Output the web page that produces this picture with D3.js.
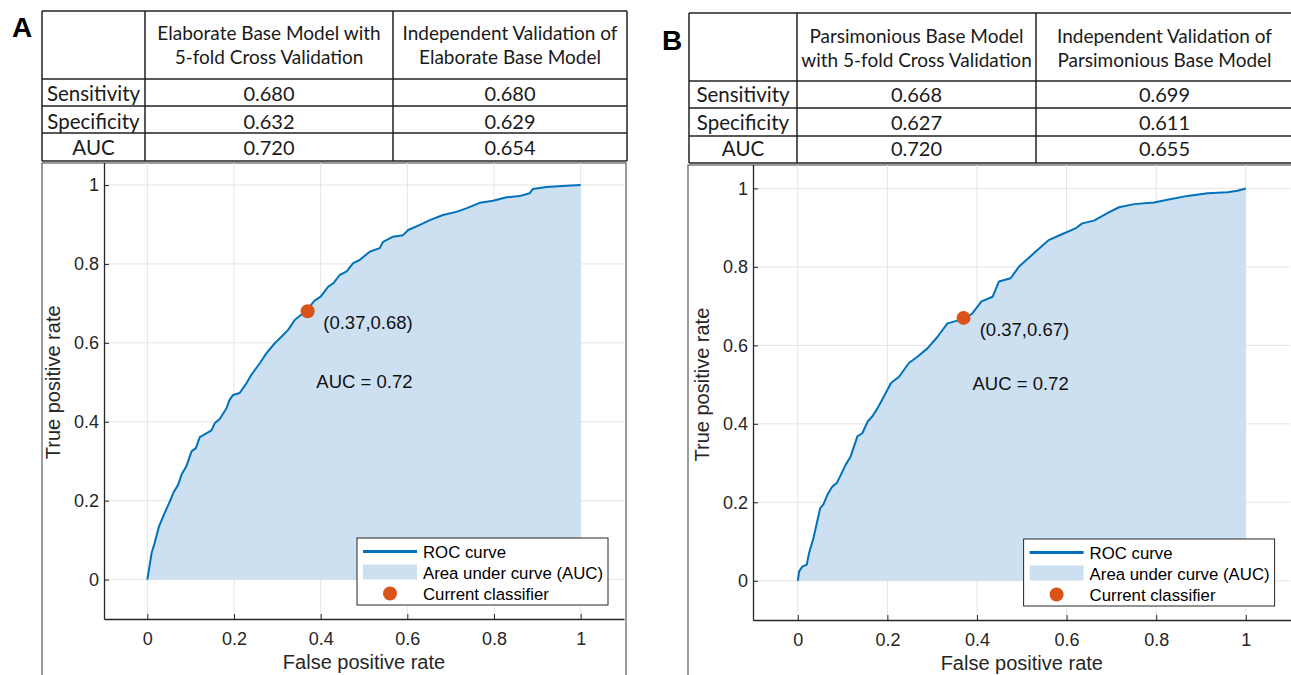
<!DOCTYPE html>
<html>
<head>
  <meta charset="utf-8">
  <title>ROC curves</title>
  <script src="https://cdn.jsdelivr.net/npm/d3@7"></script>
  <style>
    body { margin: 0; background: #fff; }
    text { font-family: "Liberation Sans", Arial, sans-serif; }
    .tbl text { font-family: Lato, "Open Sans", sans-serif; fill: #1a1a1a; }
  </style>
</head>
<body>
  <script type="text/javascript">
    // table contents
    var metrics = ["Sensitivity", "Specificity", "AUC"];
    var headA = [["Elaborate Base Model with", "5-fold Cross Validation"],
                 ["Independent Validation of", "Elaborate Base Model"]];
    var headB = [["Parsimonious Base Model", "with 5-fold Cross Validation"],
                 ["Independent Validation of", "Parsimonious Base Model"]];
    var cvA = ["0.680", "0.632", "0.720"];
    var indA = ["0.680", "0.629", "0.654"];
    var cvB = ["0.668", "0.627", "0.720"];
    var indB = ["0.699", "0.611", "0.655"];

    // ROC curve A
    var fprA = [0, 0.01, 0.017, 0.027, 0.04, 0.052, 0.06, 0.071, 0.079, 0.09, 0.102, 0.112, 0.121, 0.137,
      0.148, 0.156, 0.167, 0.183, 0.19, 0.198, 0.213, 0.229, 0.24, 0.26, 0.275, 0.294, 0.31, 0.325, 0.34,
      0.367, 0.386, 0.40, 0.417, 0.429, 0.444, 0.46, 0.475, 0.49, 0.513, 0.536, 0.544, 0.567, 0.59, 0.602,
      0.629, 0.652, 0.682, 0.713, 0.736, 0.767, 0.798, 0.829, 0.859, 0.882, 0.89, 0.921, 0.967, 1];
    var tprA = [0, 0.068, 0.093, 0.135, 0.169, 0.198, 0.22, 0.24, 0.266, 0.287, 0.325, 0.333, 0.361, 0.371,
      0.378, 0.397, 0.407, 0.435, 0.456, 0.468, 0.473, 0.498, 0.519, 0.549, 0.574, 0.599, 0.616, 0.633, 0.658,
      0.682, 0.707, 0.717, 0.742, 0.751, 0.772, 0.781, 0.802, 0.81, 0.831, 0.84, 0.856, 0.869, 0.873, 0.886,
      0.899, 0.911, 0.924, 0.932, 0.941, 0.955, 0.96, 0.969, 0.972, 0.979, 0.99, 0.995, 0.998, 1];

    // ROC curve B
    var fprB = [0, 0.003, 0.01, 0.02, 0.025, 0.035, 0.044, 0.05, 0.057, 0.066, 0.077, 0.087, 0.096, 0.107,
      0.118, 0.133, 0.144, 0.156, 0.167, 0.178, 0.188, 0.208, 0.226, 0.248, 0.267, 0.29, 0.312, 0.334, 0.356,
      0.373, 0.39, 0.41, 0.435, 0.449, 0.475, 0.494, 0.531, 0.561, 0.587, 0.621, 0.635, 0.661, 0.691, 0.717,
      0.751, 0.795, 0.825, 0.87, 0.915, 0.959, 0.981, 1];
    var tprB = [0, 0.024, 0.036, 0.041, 0.07, 0.109, 0.155, 0.185, 0.194, 0.219, 0.24, 0.249, 0.27, 0.296,
      0.317, 0.368, 0.376, 0.406, 0.42, 0.44, 0.461, 0.504, 0.52, 0.555, 0.571, 0.593, 0.622, 0.656, 0.663,
      0.667, 0.682, 0.712, 0.724, 0.763, 0.771, 0.801, 0.839, 0.869, 0.882, 0.899, 0.911, 0.918, 0.937, 0.952,
      0.96, 0.964, 0.971, 0.981, 0.988, 0.99, 0.994, 1];

    var pointA = [0.37, 0.68];
    var pointB = [0.37, 0.67];
    var aucA = 0.72, aucB = 0.72;
    var ticks = [0, 0.2, 0.4, 0.6, 0.8, 1];
    var legendNames = ["ROC curve", "Area under curve (AUC)", "Current classifier"];

    var w = 1291, h = 675;
    var blue = "#0072BD", fillBlue = "#cde0f1", orange = "#D95319", ink = "#262626";

    var svg = d3.select("body").append("svg")
      .attr("width", w)
      .attr("height", h);

    var panels = [
      { name: "A", fpr: fprA, tpr: tprA, pt: pointA, auc: aucA, head: headA, cols: [cvA, indA],
        lab: [12, 37],
        tx: [42, 145, 393, 627], ty: [11, 79, 106, 133, 161], hb: [40, 64], rb: [101, 129, 155],
        frame: [42, 163, 584], xr: [104, 624], yr: [619, 145.6] },
      { name: "B", fpr: fprB, tpr: tprB, pt: pointB, auc: aucB, head: headB, cols: [cvB, indB],
        lab: [662, 50],
        tx: [689, 797, 1036, 1293], ty: [13, 81, 108, 136, 163], hb: [43, 67], rb: [102, 130, 156],
        frame: [688, 165, 700], xr: [753, 1290.6], yr: [620, 149.2] }
    ];

    panels.forEach(function(p, i) {
      var g = svg.append("g");

      var x = d3.scaleLinear().domain([-0.1, 1.1]).range(p.xr);
      var y = d3.scaleLinear().domain([-0.1, 1.1]).range(p.yr);

      // figure frame
      g.append("rect")
        .attr("x", p.frame[0]).attr("y", p.frame[1])
        .attr("width", p.frame[2]).attr("height", h)
        .attr("fill", "#fff").attr("stroke", "#5a5a5a").attr("stroke-width", 1.2);

      var clipId = "clip" + i;
      svg.append("clipPath").attr("id", clipId).append("rect")
        .attr("x", p.frame[0]).attr("y", p.frame[1])
        .attr("width", p.frame[2]).attr("height", h);

      var plot = g.append("g").attr("clip-path", "url(#" + clipId + ")");

      // grid
      plot.selectAll(".gx").data(ticks).enter().append("line")
        .attr("x1", d => x(d)).attr("x2", d => x(d))
        .attr("y1", y(-0.1)).attr("y2", y(1.1))
        .attr("stroke", "#e4e4e4").attr("stroke-width", 1);
      plot.selectAll(".gy").data(ticks).enter().append("line")
        .attr("x1", x(-0.1)).attr("x2", x(1.1))
        .attr("y1", d => y(d)).attr("y2", d => y(d))
        .attr("stroke", "#e4e4e4").attr("stroke-width", 1);

      var pts = p.fpr.map(function(f, k) { return [f, p.tpr[k]]; });

      plot.append("path")
        .datum(pts)
        .attr("d", d3.area().x(d => x(d[0])).y0(y(0)).y1(d => y(d[1])))
        .attr("fill", fillBlue);

      plot.append("path")
        .datum(pts)
        .attr("d", d3.line().x(d => x(d[0])).y(d => y(d[1])))
        .attr("fill", "none").attr("stroke", blue).attr("stroke-width", 2)
        .attr("stroke-linejoin", "round");

      // axes
      var xAxis = plot.append("g")
        .attr("transform", "translate(0," + y(-0.1) + ")")
        .call(d3.axisBottom(x).tickValues(ticks).tickFormat(d3.format("~g"))
          .tickSize(-5).tickSizeOuter(0).tickPadding(13));
      var yAxis = plot.append("g")
        .attr("transform", "translate(" + x(-0.1) + ",0)")
        .call(d3.axisLeft(y).tickValues(ticks).tickFormat(d3.format("~g"))
          .tickSize(-5).tickSizeOuter(0).tickPadding(5));
      [xAxis, yAxis].forEach(function(a) {
        a.select(".domain").attr("stroke", ink).attr("stroke-width", 1.3);
        a.selectAll(".tick line").attr("stroke", ink);
        a.selectAll(".tick text").attr("fill", ink).style("font-size", "18px")
          .style("font-family", "'Liberation Sans', Arial, sans-serif");
      });

      // axis labels
      g.append("text")
        .attr("x", (p.xr[0] + p.xr[1]) / 2).attr("y", y(-0.1) + 50)
        .attr("text-anchor", "middle").attr("fill", ink).style("font-size", "20px")
        .text("False positive rate");
      g.append("text")
        .attr("transform", "translate(" + (x(-0.1) - 44) + "," + ((p.yr[0] + p.yr[1]) / 2) + ") rotate(-90)")
        .attr("text-anchor", "middle").attr("fill", ink).style("font-size", "20px")
        .text("True positive rate");

      // current classifier point and annotations
      g.append("circle")
        .attr("cx", x(p.pt[0])).attr("cy", y(p.pt[1])).attr("r", 7)
        .attr("fill", orange);
      g.append("text")
        .attr("x", x(p.pt[0] + 0.036)).attr("y", y(p.pt[1] - 0.045))
        .attr("fill", "#111").style("font-size", "18.5px")
        .text("(" + p.pt[0].toFixed(2) + "," + p.pt[1].toFixed(2) + ")");
      g.append("text")
        .attr("x", x(0.39)).attr("y", y(0.485))
        .attr("fill", "#111").style("font-size", "18.5px")
        .text("AUC = " + p.auc.toFixed(2));

      // legend (southeast)
      var lg = g.append("g");
      var box = lg.append("rect").attr("fill", "#fff").attr("stroke", ink).attr("stroke-width", 1);
      var texts = lg.selectAll(".lt").data(legendNames).enter().append("text")
        .attr("x", 66).attr("y", (d, k) => 13.5 + k * 21)
        .attr("dy", "0.36em")
        .attr("fill", "#000").style("font-size", "16.8px")
        .text(d => d);
      var tw = d3.max(texts.nodes(), n => n.getComputedTextLength());
      var bw = 66 + tw + 5, bh = 67;
      box.attr("width", bw).attr("height", bh);
      lg.append("line").attr("x1", 6).attr("x2", 60).attr("y1", 13.5).attr("y2", 13.5)
        .attr("stroke", blue).attr("stroke-width", 3);
      lg.append("rect").attr("x", 6).attr("y", 26.5).attr("width", 54).attr("height", 15)
        .attr("fill", fillBlue);
      lg.append("circle").attr("cx", 33).attr("cy", 55.5).attr("r", 7).attr("fill", orange);
      lg.attr("transform", "translate(" + (p.xr[1] - 16 - bw) + "," + (y(-0.1) - 14 - bh) + ")");

      // table on top
      var t = svg.append("g").attr("class", "tbl");
      var tx = p.tx, ty = p.ty;
      t.append("rect")
        .attr("x", tx[0]).attr("y", ty[0])
        .attr("width", tx[3] - tx[0]).attr("height", ty[4] - ty[0])
        .attr("fill", "#fff");
      t.selectAll(".hl").data(ty).enter().append("line")
        .attr("x1", tx[0]).attr("x2", tx[3]).attr("y1", d => d).attr("y2", d => d)
        .attr("stroke", "#222").attr("stroke-width", 1.5);
      t.selectAll(".vl").data(tx).enter().append("line")
        .attr("x1", d => d).attr("x2", d => d).attr("y1", ty[0]).attr("y2", ty[4])
        .attr("stroke", "#222").attr("stroke-width", 1.5);

      p.head.forEach(function(lines, c) {
        var cx = (tx[c + 1] + tx[c + 2]) / 2;
        lines.forEach(function(s, l) {
          t.append("text").attr("x", cx).attr("y", p.hb[l])
            .attr("text-anchor", "middle").style("font-size", "19px").text(s);
        });
      });
      metrics.forEach(function(m, r) {
        t.append("text").attr("x", (tx[0] + tx[1]) / 2).attr("y", p.rb[r])
          .attr("text-anchor", "middle").style("font-size", "20.5px").text(m);
        p.cols.forEach(function(col, c) {
          t.append("text").attr("x", (tx[c + 1] + tx[c + 2]) / 2).attr("y", p.rb[r])
            .attr("text-anchor", "middle").style("font-size", "20px").text(col[r]);
        });
      });

      // panel letter
      svg.append("text")
        .attr("x", p.lab[0]).attr("y", p.lab[1])
        .style("font-size", "28px").style("font-weight", "bold").attr("fill", "#000")
        .text(p.name);
    });
  </script>
</body>
</html>
